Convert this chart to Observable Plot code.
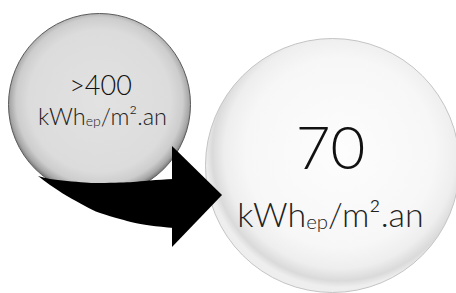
<!DOCTYPE html>
<html>
<head>
<meta charset="utf-8">
<script src="https://cdn.jsdelivr.net/npm/d3@7"></script>
<script src="https://cdn.jsdelivr.net/npm/@observablehq/plot@0.6"></script>
<style>
  html, body { margin: 0; padding: 0; background: #fff; }
  #chart svg { display: block; }
</style>
</head>
<body>
<div id="chart"></div>
<script>
// ---- data ----
const stages = ["before", "after"];
const values = [">400", "70"];
const unitBase = "kWh";
const unitSub = "ep";
const unitRest = "/m².an";

// ---- layout (pixel frame) ----
const W = 456, H = 293;
const bubbleLayout = {
  before: { cx: 99, cy: 104, r: 91, valueX: 100, valueY: 94, valueSize: 27, unitX: 102, unitY: 124, unitSize: 23.5, fill: "url(#gBefore)", stroke: "#5a5a5a" },
  after:  { cx: 332, cy: 165, r: 127, valueX: 330, valueY: 168, valueSize: 60, unitX: 330, unitY: 226, unitSize: 34, fill: "url(#gAfter)", stroke: "#c4c4c4" }
};
const shaftX   = [38, 50, 67, 85, 100, 120, 133, 150, 174];
const shaftTop = [176, 179, 181, 182.5, 183, 182.5, 182, 180.5, 179];
const shaftBot = [176, 185, 196, 206, 213, 219, 222.5, 225.5, 228];
const headX = [172, 222];
const headTop = [146, 195];
const headBot = [247, 195];

const bubbles = stages.map((s, i) => ({ stage: s, value: values[i], ...bubbleLayout[s] }));
const shaft = shaftX.map((x, i) => ({ x, y1: shaftTop[i], y2: shaftBot[i] }));
const head = headX.map((x, i) => ({ x, y1: headTop[i], y2: headBot[i] }));
const unitText = unitBase + unitSub + unitRest;

const font = "Lato, 'Open Sans', sans-serif";

const textMarks = bubbles.flatMap(b => [
  Plot.text([b], { x: "valueX", y: "valueY", text: "value", fontSize: b.valueSize, fontWeight: 300, lineAnchor: "bottom", fill: "#111" }),
  Plot.text([b], { x: "unitX", y: "unitY", text: () => unitText, fontSize: b.unitSize, fontWeight: 300, lineAnchor: "bottom", fill: "#222" })
]);

const plot = Plot.plot({
  width: W, height: H,
  margin: 0,
  x: { domain: [0, W], axis: null },
  y: { domain: [0, H], reverse: true, axis: null },
  r: { type: "identity" },
  style: { fontFamily: font, background: "transparent" },
  marks: [
    Plot.dot(bubbles, { x: "cx", y: "cy", r: "r", fill: "fill", stroke: "stroke", strokeWidth: 1 }),
    Plot.areaY(shaft, { x: "x", y1: "y1", y2: "y2", fill: "#000", curve: "natural" }),
    Plot.areaY(head, { x: "x", y1: "y1", y2: "y2", fill: "#000", curve: "linear" }),
    ...textMarks
  ]
});

// gradients
const ns = "http://www.w3.org/2000/svg";
const defs = document.createElementNS(ns, "defs");
defs.innerHTML = `
  <radialGradient id="gBefore" cx="50%" cy="48%" r="52%">
    <stop offset="0%" stop-color="#e2e2e2"/>
    <stop offset="75%" stop-color="#dcdcdc"/>
    <stop offset="88%" stop-color="#cdcdcd"/>
    <stop offset="95%" stop-color="#a6a6a6"/>
    <stop offset="100%" stop-color="#686868"/>
  </radialGradient>
  <radialGradient id="gAfter" cx="53%" cy="45%" r="53%">
    <stop offset="0%" stop-color="#fdfdfd"/>
    <stop offset="70%" stop-color="#f7f7f7"/>
    <stop offset="86%" stop-color="#eeeeee"/>
    <stop offset="95%" stop-color="#dadada"/>
    <stop offset="100%" stop-color="#eeeeee"/>
  </radialGradient>`;
plot.insertBefore(defs, plot.firstChild);

// build subscript for unit labels
plot.querySelectorAll("text").forEach(t => {
  if (t.textContent === unitText) {
    t.textContent = "";
    const a = document.createElementNS(ns, "tspan"); a.textContent = unitBase;
    const b = document.createElementNS(ns, "tspan"); b.textContent = unitSub;
    b.setAttribute("font-size", "0.6em"); b.setAttribute("dy", "0.1em");
    const c = document.createElementNS(ns, "tspan"); c.textContent = unitRest;
    c.setAttribute("dy", "-0.06em");
    t.append(a, b, c);
  }
});

document.getElementById("chart").append(plot);
</script>
</body>
</html>
